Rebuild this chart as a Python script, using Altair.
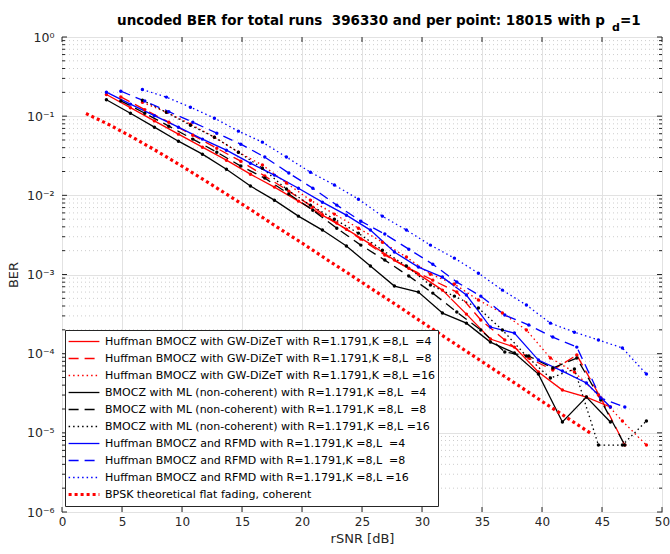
import json
import altair as alt
import pandas as pd

FONT = "DejaVu Sans"
TXT = "#262626"
NB = "\u00a0"

# ---- x positions (rSNR in dB) ----
SNR_L4 = [3.7, 5.7, 7.7, 9.7, 11.7, 13.7, 15.7, 17.7, 19.7, 21.7, 23.7, 25.7,
          27.7, 29.7, 31.7, 33.7, 35.7, 37.7, 39.7, 41.7, 43.7, 45.7]
SNR_L8 = [4.9, 6.9, 8.9, 10.9, 12.9, 14.9, 16.9, 18.9, 20.9, 22.9, 24.9, 26.9,
          28.9, 30.9, 32.9, 34.9, 36.9, 38.9, 40.9, 42.9, 44.9, 46.9]
SNR_L16 = [6.7, 8.7, 10.7, 12.7, 14.7, 16.7, 18.7, 20.7, 22.7, 24.7, 26.7, 28.7,
           30.7, 32.7, 34.7, 36.7, 38.7, 40.7, 42.7, 44.7, 46.7, 48.7]
SNR_BPSK = [2, 4, 6, 8, 10, 12, 14, 16, 18, 20, 22, 24, 26, 28, 30, 32, 34, 36,
            38, 40, 42, 44]

# ---- BER values ----
GW_L4 = [0.188, 0.128, 0.0872, 0.0593, 0.0406, 0.0278, 0.0185, 0.0127, 0.00845,
         0.00562, 0.00374, 0.00242, 0.00152, 0.00101, 0.000635, 0.000316,
         0.000153, 0.000121, 5.86e-5, 3.47e-5, 2.83e-5, 2.12e-5]
GW_L8 = [0.175, 0.121, 0.0840, 0.0575, 0.0394, 0.0270, 0.0175, 0.0113, 0.00710,
         0.00446, 0.00280, 0.00176, 0.00120, 0.000849, 0.000600, 0.000266,
         0.000149, 8.80e-5, 6.21e-5, 9.60e-5, 2.75e-5, 7.0e-6]
GW_L16 = [0.150, 0.112, 0.0793, 0.0543, 0.0351, 0.0241, 0.0143, 0.00869, 0.00579,
          0.00385, 0.00256, 0.00166, 0.00101, 0.000757, 0.000475, 0.000326,
          0.000199, 8.80e-5, 5.86e-5, 3.00e-5, 1.41e-5, 7.0e-6]
ML_L4 = [0.161, 0.109, 0.0726, 0.0483, 0.0331, 0.0214, 0.0131, 0.00869, 0.00546,
         0.00364, 0.00229, 0.00128, 0.000714, 0.000600, 0.000326, 0.000243,
         0.000140, 0.000102, 5.52e-5, 1.37e-5, 2.83e-5, 1.37e-5]
ML_L8 = [0.156, 0.109, 0.0748, 0.0513, 0.0351, 0.0234, 0.0165, 0.0104, 0.00650,
         0.00385, 0.00235, 0.00152, 0.000955, 0.000582, 0.000335, 0.000199,
         0.000105, 9.33e-5, 6.58e-5, 8.80e-5, 2.60e-5, 7.0e-6]
ML_L16 = [0.159, 0.112, 0.0769, 0.0543, 0.0351, 0.0220, 0.0120, 0.00752, 0.00500,
          0.00333, 0.00203, 0.00128, 0.000735, 0.000533, 0.000377, 0.000199,
          9.33e-5, 4.92e-5, 6.40e-5, 7.0e-6, 7.0e-6, 1.41e-5]
RF_L4 = [0.201, 0.142, 0.1014, 0.0726, 0.0513, 0.0372, 0.0255, 0.0180, 0.0123,
         0.00820, 0.00562, 0.00364, 0.00192, 0.00124, 0.000927, 0.000550,
         0.000217, 0.000182, 8.30e-5, 6.03e-5, 4.26e-5, 2.12e-5]
RF_L8 = [0.207, 0.155, 0.114, 0.0840, 0.0610, 0.0443, 0.0304, 0.0191, 0.0123,
         0.00752, 0.00472, 0.00324, 0.00209, 0.00135, 0.000802, 0.000533,
         0.000307, 0.000230, 0.000162, 0.000121, 2.75e-5, 2.12e-5]
RF_L16 = [0.217, 0.174, 0.130, 0.0944, 0.0647, 0.0470, 0.0304, 0.0196, 0.0135,
          0.00895, 0.00546, 0.00364, 0.00235, 0.00161, 0.00104, 0.000635,
          0.000411, 0.000243, 0.000187, 0.000149, 0.000118, 5.52e-5]
BPSK = [0.108, 0.077, 0.053, 0.0355, 0.0233, 0.0151, 0.0097, 0.0062, 0.0039,
        0.0025, 0.00157, 0.00100, 0.00063, 0.00040, 0.00025, 0.000158, 0.000100,
        6.3e-5, 4.0e-5, 2.5e-5, 1.58e-5, 1.0e-5]

SERIES = [
    "Huffman BMOCZ with GW-DiZeT with R=1.1791,K =8,L" + NB + " =4",
    "Huffman BMOCZ with GW-DiZeT with R=1.1791,K =8,L" + NB + " =8",
    "Huffman BMOCZ with GW-DiZeT with R=1.1791,K =8,L =16",
    "BMOCZ with ML (non-coherent) with R=1.1791,K =8,L" + NB + " =4",
    "BMOCZ with ML (non-coherent) with R=1.1791,K =8,L" + NB + " =8",
    "BMOCZ with ML (non-coherent) with R=1.1791,K =8,L =16",
    "Huffman BMOCZ and RFMD with R=1.1791,K =8,L" + NB + " =4",
    "Huffman BMOCZ and RFMD with R=1.1791,K =8,L" + NB + " =8",
    "Huffman BMOCZ and RFMD with R=1.1791,K =8,L =16",
    "BPSK theoretical flat fading, coherent",
]
COLORS = ["#ff0000", "#ff0000", "#ff0000", "#000000", "#000000", "#000000",
          "#0000ff", "#0000ff", "#0000ff", "#ff0000"]
DASHES = [[400, 1], [10, 6], [1.5, 3], [400, 1], [10, 6], [1.5, 3],
          [400, 1], [10, 6], [1.5, 3], [3, 3]]
WIDTHS = [1.3, 1.3, 1.3, 1.3, 1.3, 1.3, 1.3, 1.3, 1.3, 3.2]

X_TICKS = [0, 5, 10, 15, 20, 25, 30, 35, 40, 45, 50]
Y_TICKS = [1e-6, 1e-5, 1e-4, 1e-3, 1e-2, 1e-1, 1]
Y_LABELS = ["10\u2070", "10\u207b\u00b9", "10\u207b\u00b2", "10\u207b\u00b3",
            "10\u207b\u2074", "10\u207b\u2075", "10\u207b\u2076"]
Y_MINOR = [m * d for d in [1e-6, 1e-5, 1e-4, 1e-3, 1e-2, 1e-1] for m in range(2, 10)]

groups = [(SERIES[0], SNR_L4, GW_L4), (SERIES[1], SNR_L8, GW_L8),
          (SERIES[2], SNR_L16, GW_L16), (SERIES[3], SNR_L4, ML_L4),
          (SERIES[4], SNR_L8, ML_L8), (SERIES[5], SNR_L16, ML_L16),
          (SERIES[6], SNR_L4, RF_L4), (SERIES[7], SNR_L8, RF_L8),
          (SERIES[8], SNR_L16, RF_L16), (SERIES[9], SNR_BPSK, BPSK)]
rec = []
for name, xv, yv in groups:
    for a, b in zip(xv, yv):
        rec.append({"series": name, "snr": a, "ber": b,
                    "col": COLORS[SERIES.index(name)],
                    "bpsk": name == SERIES[9]})
df = pd.DataFrame(rec)

W, H = 600, 475
xsc = alt.Scale(domain=[0, 50], nice=False, zero=False)
ysc = alt.Scale(type="log", domain=[1e-6, 1], nice=False)

leg = alt.Legend(title=None, orient="none", legendX=3, legendY=293,
                 direction="vertical", symbolType="M-2.2,0H2.2",
                 symbolSize=196, symbolOffset=7, labelOffset=12,
                 labelFont=FONT, labelFontSize=11, labelColor="#000000",
                 labelLimit=0, rowPadding=0, clipHeight=17, padding=3,
                 strokeColor=TXT, fillColor="#ffffff", cornerRadius=0)

xaxis = alt.Axis(values=X_TICKS, title="rSNR [dB]", grid=True, gridColor="#e2e2e2",
                 ticks=False, domain=False, labelFont=FONT, labelFontSize=12,
                 labelColor=TXT, labelPadding=4, titleFont=FONT, titleFontSize=13,
                 titleFontWeight="normal", titleColor=TXT, titlePadding=5,
                 labelFlush=False)
yaxis = alt.Axis(values=Y_TICKS, title="BER", grid=True, gridColor="#e2e2e2",
                 ticks=False, domain=False, labelFont=FONT, labelFontSize=12.5,
                 labelColor=TXT, labelPadding=8,
                 labelExpr=json.dumps(Y_LABELS, ensure_ascii=False) +
                 "[round(-log(datum.value)/LN10)]",
                 titleFont=FONT, titleFontSize=13, titleFontWeight="normal",
                 titleColor=TXT, titlePadding=6, labelFlush=False)


def X(field):
    return alt.X(field, scale=xsc, axis=xaxis)


def Y(field):
    return alt.Y(field, scale=ysc, axis=yaxis)


def enc():
    return dict(
        x=X("snr:Q"),
        y=Y("ber:Q"),
        color=alt.Color("series:N", scale=alt.Scale(domain=SERIES, range=COLORS), legend=leg),
        strokeDash=alt.StrokeDash("series:N", scale=alt.Scale(type="ordinal", domain=SERIES, range=DASHES), legend=leg),
        strokeWidth=alt.StrokeWidth("series:N", scale=alt.Scale(type="ordinal", domain=SERIES, range=WIDTHS), legend=leg),
    )


base = alt.Chart(df)
lines = base.transform_filter("!datum.bpsk").mark_line(clip=True).encode(**enc())
bpsk = base.transform_filter("datum.bpsk").mark_line(clip=True).encode(**enc())
points = base.transform_filter("!datum.bpsk").mark_circle(size=12, opacity=1).encode(
    x=X("snr:Q"), y=Y("ber:Q"), color=alt.Color("col:N", scale=None))

minor = alt.Chart(pd.DataFrame({"ber": Y_MINOR})).mark_rule(
    color="#cdcdcd", strokeDash=[1, 3], strokeWidth=1).encode(y=Y("ber:Q"))

ymaj = pd.DataFrame({"ber": Y_TICKS})
ymin = pd.DataFrame({"ber": Y_MINOR})
xmaj = pd.DataFrame({"snr": X_TICKS})
tk = []
for d, ln in [(ymaj, 5), (ymin, 3)]:
    for x0, x1 in [(0, ln), (W - ln, W)]:
        tk.append(alt.Chart(d).mark_rule(color=TXT, strokeWidth=1).encode(
            y=Y("ber:Q"), x=alt.value(x0), x2=alt.value(x1)))
for y0, y1 in [(H, H - 5), (0, 5)]:
    tk.append(alt.Chart(xmaj).mark_rule(color=TXT, strokeWidth=1).encode(
        x=X("snr:Q"), y=alt.value(y0), y2=alt.value(y1)))

one = alt.Data(values=[{"a": 1}])
t_main = alt.Chart(one).mark_text(font=FONT, fontSize=13.5, fontWeight="bold",
                                  align="right", baseline="alphabetic", color="#000000").encode(
    x=alt.value(543), y=alt.value(-12),
    text=alt.value("uncoded BER for total runs " + NB + "396330 and per point: 18015 with p"))
t_sub = alt.Chart(one).mark_text(font=FONT, fontSize=11, fontWeight="bold",
                                 align="left", baseline="alphabetic", color="#000000").encode(
    x=alt.value(550), y=alt.value(-6), text=alt.value("d"))
t_end = alt.Chart(one).mark_text(font=FONT, fontSize=13.5, fontWeight="bold",
                                 align="left", baseline="alphabetic", color="#000000").encode(
    x=alt.value(558), y=alt.value(-12), text=alt.value("=1"))

chart = alt.layer(minor, lines, points, bpsk, *tk, t_main, t_sub, t_end).properties(
    width=W, height=H,
    autosize=alt.AutoSizeParams(type="none"),
    padding={"left": 62, "top": 37, "right": 8, "bottom": 42},
    background="#ffffff",
).configure_view(stroke=TXT, strokeWidth=1)

chart.save("out.html", embed_options={"renderer": "svg", "actions": False})
